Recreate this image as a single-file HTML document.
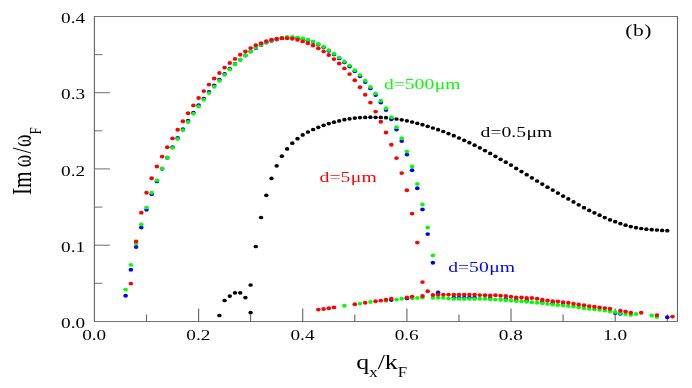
<!DOCTYPE html>
<html><head><meta charset="utf-8"><title>chart</title>
<style>html,body{margin:0;padding:0;background:#fff;}body{width:692px;height:388px;position:relative;overflow:hidden;font-family:"Liberation Serif",serif;}</style></head>
<body>
<svg width="692" height="388" viewBox="0 0 692 388" style="position:absolute;left:0;top:0;display:block">
<defs><filter id="sb" x="-5%" y="-5%" width="110%" height="110%"><feGaussianBlur stdDeviation="0.45"/></filter></defs>
<rect width="692" height="388" fill="#fff"/>
<g stroke="#747474" stroke-width="1.05" fill="none">
<line x1="93.9" y1="16.5" x2="678.0" y2="16.5"/><line x1="93.9" y1="321.4" x2="678.0" y2="321.4"/>
<line x1="94.4" y1="283.3" x2="102.4" y2="283.3"/>
<line x1="94.4" y1="245.2" x2="109.9" y2="245.2"/>
<line x1="94.4" y1="207.1" x2="102.4" y2="207.1"/>
<line x1="94.4" y1="168.9" x2="109.9" y2="168.9"/>
<line x1="94.4" y1="130.8" x2="102.4" y2="130.8"/>
<line x1="94.4" y1="92.7" x2="109.9" y2="92.7"/>
<line x1="94.4" y1="54.6" x2="102.4" y2="54.6"/>
</g>
<g stroke="#626262" stroke-width="1.1" fill="none">
<line x1="94.4" y1="16.5" x2="94.4" y2="321.4"/><line x1="677.5" y1="16.5" x2="677.5" y2="321.4"/>
<line x1="146.5" y1="321.4" x2="146.5" y2="314.4"/>
<line x1="198.6" y1="321.4" x2="198.6" y2="308.4"/>
<line x1="250.6" y1="321.4" x2="250.6" y2="314.4"/>
<line x1="302.7" y1="321.4" x2="302.7" y2="308.4"/>
<line x1="354.8" y1="321.4" x2="354.8" y2="314.4"/>
<line x1="406.9" y1="321.4" x2="406.9" y2="308.4"/>
<line x1="459.0" y1="321.4" x2="459.0" y2="314.4"/>
<line x1="511.0" y1="321.4" x2="511.0" y2="308.4"/>
<line x1="563.1" y1="321.4" x2="563.1" y2="314.4"/>
<line x1="615.2" y1="321.4" x2="615.2" y2="308.4"/>
<line x1="667.3" y1="321.4" x2="667.3" y2="314.4"/>
</g>
<g filter="url(#sb)">
<g fill="#000"><ellipse cx="219.4" cy="315.5" rx="2.2" ry="1.85"/><ellipse cx="224.6" cy="300.5" rx="2.2" ry="1.85"/><ellipse cx="229.8" cy="296.1" rx="2.2" ry="1.85"/><ellipse cx="235.0" cy="292.8" rx="2.2" ry="1.85"/><ellipse cx="240.2" cy="292.8" rx="2.2" ry="1.85"/><ellipse cx="245.4" cy="297.6" rx="2.2" ry="1.85"/><ellipse cx="250.6" cy="285.0" rx="2.2" ry="1.85"/><ellipse cx="250.6" cy="312.6" rx="2.2" ry="1.85"/><ellipse cx="255.8" cy="246.5" rx="2.2" ry="1.85"/><ellipse cx="261.1" cy="217.5" rx="2.2" ry="1.85"/><ellipse cx="266.3" cy="195.3" rx="2.2" ry="1.85"/><ellipse cx="271.5" cy="178.4" rx="2.2" ry="1.85"/><ellipse cx="276.7" cy="165.8" rx="2.2" ry="1.85"/><ellipse cx="281.9" cy="156.2" rx="2.2" ry="1.85"/><ellipse cx="287.1" cy="148.9" rx="2.2" ry="1.85"/><ellipse cx="292.3" cy="143.2" rx="2.2" ry="1.85"/><ellipse cx="297.5" cy="138.7" rx="2.2" ry="1.85"/><ellipse cx="302.7" cy="134.9" rx="2.2" ry="1.85"/><ellipse cx="307.9" cy="132.0" rx="2.2" ry="1.85"/><ellipse cx="313.1" cy="129.5" rx="2.2" ry="1.85"/><ellipse cx="318.3" cy="127.3" rx="2.2" ry="1.85"/><ellipse cx="323.6" cy="125.3" rx="2.2" ry="1.85"/><ellipse cx="328.8" cy="123.6" rx="2.2" ry="1.85"/><ellipse cx="334.0" cy="122.2" rx="2.2" ry="1.85"/><ellipse cx="339.2" cy="120.9" rx="2.2" ry="1.85"/><ellipse cx="344.4" cy="119.7" rx="2.2" ry="1.85"/><ellipse cx="349.6" cy="118.8" rx="2.2" ry="1.85"/><ellipse cx="354.8" cy="118.1" rx="2.2" ry="1.85"/><ellipse cx="360.0" cy="117.6" rx="2.2" ry="1.85"/><ellipse cx="365.2" cy="117.4" rx="2.2" ry="1.85"/><ellipse cx="370.4" cy="117.2" rx="2.2" ry="1.85"/><ellipse cx="375.6" cy="117.3" rx="2.2" ry="1.85"/><ellipse cx="380.8" cy="117.4" rx="2.2" ry="1.85"/><ellipse cx="386.0" cy="117.7" rx="2.2" ry="1.85"/><ellipse cx="391.3" cy="118.3" rx="2.2" ry="1.85"/><ellipse cx="396.5" cy="119.0" rx="2.2" ry="1.85"/><ellipse cx="401.7" cy="119.8" rx="2.2" ry="1.85"/><ellipse cx="406.9" cy="120.8" rx="2.2" ry="1.85"/><ellipse cx="412.1" cy="122.0" rx="2.2" ry="1.85"/><ellipse cx="417.3" cy="123.3" rx="2.2" ry="1.85"/><ellipse cx="422.5" cy="124.7" rx="2.2" ry="1.85"/><ellipse cx="427.7" cy="126.3" rx="2.2" ry="1.85"/><ellipse cx="432.9" cy="128.0" rx="2.2" ry="1.85"/><ellipse cx="438.1" cy="129.7" rx="2.2" ry="1.85"/><ellipse cx="443.3" cy="131.5" rx="2.2" ry="1.85"/><ellipse cx="448.5" cy="133.6" rx="2.2" ry="1.85"/><ellipse cx="453.8" cy="135.7" rx="2.2" ry="1.85"/><ellipse cx="459.0" cy="138.0" rx="2.2" ry="1.85"/><ellipse cx="464.2" cy="140.3" rx="2.2" ry="1.85"/><ellipse cx="469.4" cy="142.7" rx="2.2" ry="1.85"/><ellipse cx="474.6" cy="145.2" rx="2.2" ry="1.85"/><ellipse cx="479.8" cy="147.8" rx="2.2" ry="1.85"/><ellipse cx="485.0" cy="150.6" rx="2.2" ry="1.85"/><ellipse cx="490.2" cy="153.4" rx="2.2" ry="1.85"/><ellipse cx="495.4" cy="156.3" rx="2.2" ry="1.85"/><ellipse cx="500.6" cy="159.3" rx="2.2" ry="1.85"/><ellipse cx="505.8" cy="162.2" rx="2.2" ry="1.85"/><ellipse cx="511.0" cy="165.1" rx="2.2" ry="1.85"/><ellipse cx="516.2" cy="168.4" rx="2.2" ry="1.85"/><ellipse cx="521.5" cy="171.6" rx="2.2" ry="1.85"/><ellipse cx="526.7" cy="174.7" rx="2.2" ry="1.85"/><ellipse cx="531.9" cy="177.8" rx="2.2" ry="1.85"/><ellipse cx="537.1" cy="181.0" rx="2.2" ry="1.85"/><ellipse cx="542.3" cy="184.1" rx="2.2" ry="1.85"/><ellipse cx="547.5" cy="187.2" rx="2.2" ry="1.85"/><ellipse cx="552.7" cy="190.1" rx="2.2" ry="1.85"/><ellipse cx="557.9" cy="193.1" rx="2.2" ry="1.85"/><ellipse cx="563.1" cy="196.1" rx="2.2" ry="1.85"/><ellipse cx="568.3" cy="198.9" rx="2.2" ry="1.85"/><ellipse cx="573.5" cy="201.9" rx="2.2" ry="1.85"/><ellipse cx="578.7" cy="204.8" rx="2.2" ry="1.85"/><ellipse cx="584.0" cy="207.7" rx="2.2" ry="1.85"/><ellipse cx="589.2" cy="210.4" rx="2.2" ry="1.85"/><ellipse cx="594.4" cy="212.8" rx="2.2" ry="1.85"/><ellipse cx="599.6" cy="215.2" rx="2.2" ry="1.85"/><ellipse cx="604.8" cy="217.6" rx="2.2" ry="1.85"/><ellipse cx="610.0" cy="219.8" rx="2.2" ry="1.85"/><ellipse cx="615.2" cy="221.7" rx="2.2" ry="1.85"/><ellipse cx="620.4" cy="223.6" rx="2.2" ry="1.85"/><ellipse cx="625.6" cy="225.2" rx="2.2" ry="1.85"/><ellipse cx="630.8" cy="226.6" rx="2.2" ry="1.85"/><ellipse cx="636.0" cy="227.7" rx="2.2" ry="1.85"/><ellipse cx="641.2" cy="228.5" rx="2.2" ry="1.85"/><ellipse cx="646.4" cy="229.2" rx="2.2" ry="1.85"/><ellipse cx="651.7" cy="229.7" rx="2.2" ry="1.85"/><ellipse cx="656.9" cy="230.0" rx="2.2" ry="1.85"/><ellipse cx="662.1" cy="230.4" rx="2.2" ry="1.85"/><ellipse cx="667.3" cy="230.7" rx="2.2" ry="1.85"/></g>

<g fill="#0000ff"><ellipse cx="125.6" cy="295.8" rx="2.3" ry="1.95"/><ellipse cx="130.9" cy="269.7" rx="2.3" ry="1.95"/><ellipse cx="136.1" cy="247.0" rx="2.3" ry="1.95"/><ellipse cx="141.3" cy="227.5" rx="2.3" ry="1.95"/><ellipse cx="146.5" cy="209.8" rx="2.3" ry="1.95"/><ellipse cx="151.7" cy="194.3" rx="2.3" ry="1.95"/><ellipse cx="156.9" cy="181.4" rx="2.3" ry="1.95"/><ellipse cx="162.1" cy="168.7" rx="2.3" ry="1.95"/><ellipse cx="167.3" cy="157.8" rx="2.3" ry="1.95"/><ellipse cx="172.5" cy="147.1" rx="2.3" ry="1.95"/><ellipse cx="177.7" cy="138.0" rx="2.3" ry="1.95"/><ellipse cx="182.9" cy="129.1" rx="2.3" ry="1.95"/><ellipse cx="188.1" cy="120.8" rx="2.3" ry="1.95"/><ellipse cx="193.4" cy="112.6" rx="2.3" ry="1.95"/><ellipse cx="198.6" cy="105.3" rx="2.3" ry="1.95"/><ellipse cx="203.8" cy="98.6" rx="2.3" ry="1.95"/><ellipse cx="209.0" cy="91.9" rx="2.3" ry="1.95"/><ellipse cx="214.2" cy="85.5" rx="2.3" ry="1.95"/><ellipse cx="219.4" cy="79.6" rx="2.3" ry="1.95"/><ellipse cx="224.6" cy="74.0" rx="2.3" ry="1.95"/><ellipse cx="229.8" cy="68.8" rx="2.3" ry="1.95"/><ellipse cx="235.0" cy="64.0" rx="2.3" ry="1.95"/><ellipse cx="240.2" cy="59.7" rx="2.3" ry="1.95"/><ellipse cx="245.4" cy="55.5" rx="2.3" ry="1.95"/><ellipse cx="250.6" cy="51.6" rx="2.3" ry="1.95"/><ellipse cx="255.8" cy="48.0" rx="2.3" ry="1.95"/><ellipse cx="261.1" cy="45.1" rx="2.3" ry="1.95"/><ellipse cx="266.3" cy="42.5" rx="2.3" ry="1.95"/><ellipse cx="271.5" cy="40.7" rx="2.3" ry="1.95"/><ellipse cx="276.7" cy="39.5" rx="2.3" ry="1.95"/><ellipse cx="281.9" cy="38.1" rx="2.3" ry="1.95"/><ellipse cx="287.1" cy="37.5" rx="2.3" ry="1.95"/><ellipse cx="292.3" cy="37.4" rx="2.3" ry="1.95"/><ellipse cx="297.5" cy="38.0" rx="2.3" ry="1.95"/><ellipse cx="302.7" cy="38.9" rx="2.3" ry="1.95"/><ellipse cx="307.9" cy="40.2" rx="2.3" ry="1.95"/><ellipse cx="313.1" cy="42.0" rx="2.3" ry="1.95"/><ellipse cx="318.3" cy="44.4" rx="2.3" ry="1.95"/><ellipse cx="323.6" cy="47.3" rx="2.3" ry="1.95"/><ellipse cx="328.8" cy="50.7" rx="2.3" ry="1.95"/><ellipse cx="334.0" cy="54.4" rx="2.3" ry="1.95"/><ellipse cx="339.2" cy="58.4" rx="2.3" ry="1.95"/><ellipse cx="344.4" cy="62.4" rx="2.3" ry="1.95"/><ellipse cx="349.6" cy="66.5" rx="2.3" ry="1.95"/><ellipse cx="354.8" cy="71.2" rx="2.3" ry="1.95"/><ellipse cx="360.0" cy="76.2" rx="2.3" ry="1.95"/><ellipse cx="365.2" cy="82.1" rx="2.3" ry="1.95"/><ellipse cx="370.4" cy="88.4" rx="2.3" ry="1.95"/><ellipse cx="375.6" cy="95.1" rx="2.3" ry="1.95"/><ellipse cx="380.8" cy="102.5" rx="2.3" ry="1.95"/><ellipse cx="386.0" cy="110.0" rx="2.3" ry="1.95"/><ellipse cx="391.3" cy="119.2" rx="2.3" ry="1.95"/><ellipse cx="396.5" cy="129.6" rx="2.3" ry="1.95"/><ellipse cx="401.7" cy="141.1" rx="2.3" ry="1.95"/><ellipse cx="406.9" cy="154.6" rx="2.3" ry="1.95"/><ellipse cx="412.1" cy="170.2" rx="2.3" ry="1.95"/><ellipse cx="417.3" cy="188.2" rx="2.3" ry="1.95"/><ellipse cx="422.5" cy="209.4" rx="2.3" ry="1.95"/><ellipse cx="427.7" cy="234.1" rx="2.3" ry="1.95"/><ellipse cx="432.9" cy="262.7" rx="2.3" ry="1.95"/><ellipse cx="438.1" cy="292.4" rx="2.3" ry="1.95"/></g>

<g fill="#0000ff"><ellipse cx="391.3" cy="300.1" rx="2.3" ry="1.95"/><ellipse cx="406.9" cy="298.4" rx="2.3" ry="1.95"/><ellipse cx="453.8" cy="297.6" rx="2.3" ry="1.95"/><ellipse cx="459.0" cy="297.6" rx="2.3" ry="1.95"/><ellipse cx="464.2" cy="297.6" rx="2.3" ry="1.95"/><ellipse cx="469.4" cy="297.6" rx="2.3" ry="1.95"/><ellipse cx="474.6" cy="297.6" rx="2.3" ry="1.95"/><ellipse cx="490.2" cy="297.9" rx="2.3" ry="1.95"/><ellipse cx="505.8" cy="299.0" rx="2.3" ry="1.95"/><ellipse cx="516.2" cy="299.7" rx="2.3" ry="1.95"/><ellipse cx="526.7" cy="300.5" rx="2.3" ry="1.95"/><ellipse cx="542.3" cy="302.0" rx="2.3" ry="1.95"/><ellipse cx="552.7" cy="303.2" rx="2.3" ry="1.95"/><ellipse cx="563.1" cy="304.1" rx="2.3" ry="1.95"/><ellipse cx="615.2" cy="313.1" rx="2.3" ry="1.95"/><ellipse cx="620.4" cy="313.8" rx="2.3" ry="1.95"/><ellipse cx="667.3" cy="317.3" rx="2.3" ry="1.95"/></g>

<g fill="#00ff00"><ellipse cx="125.6" cy="289.6" rx="2.3" ry="1.95"/><ellipse cx="130.9" cy="264.9" rx="2.3" ry="1.95"/><ellipse cx="136.1" cy="243.4" rx="2.3" ry="1.95"/><ellipse cx="141.3" cy="224.4" rx="2.3" ry="1.95"/><ellipse cx="146.5" cy="207.6" rx="2.3" ry="1.95"/><ellipse cx="151.7" cy="192.8" rx="2.3" ry="1.95"/><ellipse cx="156.9" cy="180.4" rx="2.3" ry="1.95"/><ellipse cx="162.1" cy="168.4" rx="2.3" ry="1.95"/><ellipse cx="167.3" cy="157.8" rx="2.3" ry="1.95"/><ellipse cx="172.5" cy="147.9" rx="2.3" ry="1.95"/><ellipse cx="177.7" cy="139.0" rx="2.3" ry="1.95"/><ellipse cx="182.9" cy="130.3" rx="2.3" ry="1.95"/><ellipse cx="188.1" cy="122.0" rx="2.3" ry="1.95"/><ellipse cx="193.4" cy="113.8" rx="2.3" ry="1.95"/><ellipse cx="198.6" cy="106.5" rx="2.3" ry="1.95"/><ellipse cx="203.8" cy="99.8" rx="2.3" ry="1.95"/><ellipse cx="209.0" cy="93.1" rx="2.3" ry="1.95"/><ellipse cx="214.2" cy="86.7" rx="2.3" ry="1.95"/><ellipse cx="219.4" cy="80.8" rx="2.3" ry="1.95"/><ellipse cx="224.6" cy="74.9" rx="2.3" ry="1.95"/><ellipse cx="229.8" cy="69.4" rx="2.3" ry="1.95"/><ellipse cx="235.0" cy="64.3" rx="2.3" ry="1.95"/><ellipse cx="240.2" cy="59.7" rx="2.3" ry="1.95"/><ellipse cx="245.4" cy="55.3" rx="2.3" ry="1.95"/><ellipse cx="250.6" cy="51.2" rx="2.3" ry="1.95"/><ellipse cx="255.8" cy="47.6" rx="2.3" ry="1.95"/><ellipse cx="261.1" cy="44.7" rx="2.3" ry="1.95"/><ellipse cx="266.3" cy="42.1" rx="2.3" ry="1.95"/><ellipse cx="271.5" cy="40.3" rx="2.3" ry="1.95"/><ellipse cx="276.7" cy="39.1" rx="2.3" ry="1.95"/><ellipse cx="281.9" cy="37.7" rx="2.3" ry="1.95"/><ellipse cx="287.1" cy="37.1" rx="2.3" ry="1.95"/><ellipse cx="292.3" cy="37.0" rx="2.3" ry="1.95"/><ellipse cx="297.5" cy="37.6" rx="2.3" ry="1.95"/><ellipse cx="302.7" cy="38.5" rx="2.3" ry="1.95"/><ellipse cx="307.9" cy="39.8" rx="2.3" ry="1.95"/><ellipse cx="313.1" cy="41.6" rx="2.3" ry="1.95"/><ellipse cx="318.3" cy="44.0" rx="2.3" ry="1.95"/><ellipse cx="323.6" cy="46.8" rx="2.3" ry="1.95"/><ellipse cx="328.8" cy="50.1" rx="2.3" ry="1.95"/><ellipse cx="334.0" cy="53.7" rx="2.3" ry="1.95"/><ellipse cx="339.2" cy="57.6" rx="2.3" ry="1.95"/><ellipse cx="344.4" cy="61.5" rx="2.3" ry="1.95"/><ellipse cx="349.6" cy="65.6" rx="2.3" ry="1.95"/><ellipse cx="354.8" cy="70.2" rx="2.3" ry="1.95"/><ellipse cx="360.0" cy="75.1" rx="2.3" ry="1.95"/><ellipse cx="365.2" cy="80.8" rx="2.3" ry="1.95"/><ellipse cx="370.4" cy="87.0" rx="2.3" ry="1.95"/><ellipse cx="375.6" cy="93.5" rx="2.3" ry="1.95"/><ellipse cx="380.8" cy="100.8" rx="2.3" ry="1.95"/><ellipse cx="386.0" cy="108.2" rx="2.3" ry="1.95"/><ellipse cx="391.3" cy="117.2" rx="2.3" ry="1.95"/><ellipse cx="396.5" cy="127.2" rx="2.3" ry="1.95"/><ellipse cx="401.7" cy="138.3" rx="2.3" ry="1.95"/><ellipse cx="406.9" cy="151.4" rx="2.3" ry="1.95"/><ellipse cx="412.1" cy="166.4" rx="2.3" ry="1.95"/><ellipse cx="417.3" cy="183.9" rx="2.3" ry="1.95"/><ellipse cx="422.5" cy="204.4" rx="2.3" ry="1.95"/><ellipse cx="427.7" cy="227.5" rx="2.3" ry="1.95"/><ellipse cx="432.9" cy="255.4" rx="2.3" ry="1.95"/></g>

<g fill="#00ff00"><ellipse cx="344.4" cy="305.8" rx="2.3" ry="1.95"/><ellipse cx="360.0" cy="303.6" rx="2.3" ry="1.95"/><ellipse cx="370.4" cy="302.0" rx="2.3" ry="1.95"/><ellipse cx="386.0" cy="300.8" rx="2.3" ry="1.95"/><ellipse cx="396.5" cy="299.6" rx="2.3" ry="1.95"/><ellipse cx="401.7" cy="298.7" rx="2.3" ry="1.95"/><ellipse cx="412.1" cy="298.2" rx="2.3" ry="1.95"/><ellipse cx="417.3" cy="297.9" rx="2.3" ry="1.95"/><ellipse cx="422.5" cy="297.6" rx="2.3" ry="1.95"/><ellipse cx="432.9" cy="297.8" rx="2.3" ry="1.95"/><ellipse cx="438.1" cy="297.7" rx="2.3" ry="1.95"/><ellipse cx="443.3" cy="297.8" rx="2.3" ry="1.95"/><ellipse cx="448.5" cy="298.4" rx="2.3" ry="1.95"/><ellipse cx="453.8" cy="298.9" rx="2.3" ry="1.95"/><ellipse cx="459.0" cy="298.9" rx="2.3" ry="1.95"/><ellipse cx="464.2" cy="298.9" rx="2.3" ry="1.95"/><ellipse cx="469.4" cy="298.9" rx="2.3" ry="1.95"/><ellipse cx="474.6" cy="298.9" rx="2.3" ry="1.95"/><ellipse cx="479.8" cy="298.7" rx="2.3" ry="1.95"/><ellipse cx="485.0" cy="298.7" rx="2.3" ry="1.95"/><ellipse cx="490.2" cy="299.2" rx="2.3" ry="1.95"/><ellipse cx="495.4" cy="299.6" rx="2.3" ry="1.95"/><ellipse cx="500.6" cy="299.7" rx="2.3" ry="1.95"/><ellipse cx="505.8" cy="300.3" rx="2.3" ry="1.95"/><ellipse cx="511.0" cy="300.6" rx="2.3" ry="1.95"/><ellipse cx="516.2" cy="301.0" rx="2.3" ry="1.95"/><ellipse cx="521.5" cy="301.3" rx="2.3" ry="1.95"/><ellipse cx="526.7" cy="301.8" rx="2.3" ry="1.95"/><ellipse cx="531.9" cy="302.2" rx="2.3" ry="1.95"/><ellipse cx="537.1" cy="302.7" rx="2.3" ry="1.95"/><ellipse cx="542.3" cy="303.3" rx="2.3" ry="1.95"/><ellipse cx="547.5" cy="303.9" rx="2.3" ry="1.95"/><ellipse cx="552.7" cy="304.5" rx="2.3" ry="1.95"/><ellipse cx="557.9" cy="305.0" rx="2.3" ry="1.95"/><ellipse cx="563.1" cy="305.4" rx="2.3" ry="1.95"/><ellipse cx="568.3" cy="305.9" rx="2.3" ry="1.95"/><ellipse cx="573.5" cy="306.5" rx="2.3" ry="1.95"/><ellipse cx="578.7" cy="307.2" rx="2.3" ry="1.95"/><ellipse cx="584.0" cy="308.3" rx="2.3" ry="1.95"/><ellipse cx="589.2" cy="308.7" rx="2.3" ry="1.95"/><ellipse cx="594.4" cy="309.2" rx="2.3" ry="1.95"/><ellipse cx="599.6" cy="309.8" rx="2.3" ry="1.95"/><ellipse cx="604.8" cy="310.5" rx="2.3" ry="1.95"/><ellipse cx="610.0" cy="311.4" rx="2.3" ry="1.95"/><ellipse cx="615.2" cy="312.0" rx="2.3" ry="1.95"/><ellipse cx="620.4" cy="313.1" rx="2.3" ry="1.95"/><ellipse cx="625.6" cy="314.0" rx="2.3" ry="1.95"/><ellipse cx="630.8" cy="314.9" rx="2.3" ry="1.95"/><ellipse cx="636.0" cy="314.0" rx="2.3" ry="1.95"/><ellipse cx="651.7" cy="315.5" rx="2.3" ry="1.95"/><ellipse cx="656.9" cy="317.0" rx="2.3" ry="1.95"/></g>

<g fill="#ff0000"><ellipse cx="130.9" cy="283.6" rx="2.3" ry="1.95"/><ellipse cx="136.1" cy="241.4" rx="2.3" ry="1.95"/><ellipse cx="141.3" cy="212.8" rx="2.3" ry="1.95"/><ellipse cx="146.5" cy="192.8" rx="2.3" ry="1.95"/><ellipse cx="151.7" cy="178.3" rx="2.3" ry="1.95"/><ellipse cx="156.9" cy="166.5" rx="2.3" ry="1.95"/><ellipse cx="162.1" cy="156.6" rx="2.3" ry="1.95"/><ellipse cx="167.3" cy="147.3" rx="2.3" ry="1.95"/><ellipse cx="172.5" cy="138.4" rx="2.3" ry="1.95"/><ellipse cx="177.7" cy="129.7" rx="2.3" ry="1.95"/><ellipse cx="182.9" cy="121.3" rx="2.3" ry="1.95"/><ellipse cx="188.1" cy="113.3" rx="2.3" ry="1.95"/><ellipse cx="193.4" cy="105.4" rx="2.3" ry="1.95"/><ellipse cx="198.6" cy="98.0" rx="2.3" ry="1.95"/><ellipse cx="203.8" cy="91.1" rx="2.3" ry="1.95"/><ellipse cx="209.0" cy="84.6" rx="2.3" ry="1.95"/><ellipse cx="214.2" cy="78.5" rx="2.3" ry="1.95"/><ellipse cx="219.4" cy="73.0" rx="2.3" ry="1.95"/><ellipse cx="224.6" cy="67.6" rx="2.3" ry="1.95"/><ellipse cx="229.8" cy="63.0" rx="2.3" ry="1.95"/><ellipse cx="235.0" cy="58.9" rx="2.3" ry="1.95"/><ellipse cx="240.2" cy="54.8" rx="2.3" ry="1.95"/><ellipse cx="245.4" cy="51.4" rx="2.3" ry="1.95"/><ellipse cx="250.6" cy="48.1" rx="2.3" ry="1.95"/><ellipse cx="255.8" cy="45.2" rx="2.3" ry="1.95"/><ellipse cx="261.1" cy="43.2" rx="2.3" ry="1.95"/><ellipse cx="266.3" cy="41.1" rx="2.3" ry="1.95"/><ellipse cx="271.5" cy="39.8" rx="2.3" ry="1.95"/><ellipse cx="276.7" cy="38.8" rx="2.3" ry="1.95"/><ellipse cx="281.9" cy="38.3" rx="2.3" ry="1.95"/><ellipse cx="287.1" cy="38.3" rx="2.3" ry="1.95"/><ellipse cx="292.3" cy="38.8" rx="2.3" ry="1.95"/><ellipse cx="297.5" cy="39.7" rx="2.3" ry="1.95"/><ellipse cx="302.7" cy="41.4" rx="2.3" ry="1.95"/><ellipse cx="307.9" cy="43.2" rx="2.3" ry="1.95"/><ellipse cx="313.1" cy="45.5" rx="2.3" ry="1.95"/><ellipse cx="318.3" cy="48.3" rx="2.3" ry="1.95"/><ellipse cx="323.6" cy="51.4" rx="2.3" ry="1.95"/><ellipse cx="328.8" cy="55.0" rx="2.3" ry="1.95"/><ellipse cx="334.0" cy="59.1" rx="2.3" ry="1.95"/><ellipse cx="339.2" cy="63.5" rx="2.3" ry="1.95"/><ellipse cx="344.4" cy="68.4" rx="2.3" ry="1.95"/><ellipse cx="349.6" cy="74.1" rx="2.3" ry="1.95"/><ellipse cx="354.8" cy="80.3" rx="2.3" ry="1.95"/><ellipse cx="360.0" cy="87.2" rx="2.3" ry="1.95"/><ellipse cx="365.2" cy="94.7" rx="2.3" ry="1.95"/><ellipse cx="370.4" cy="102.6" rx="2.3" ry="1.95"/><ellipse cx="375.6" cy="111.6" rx="2.3" ry="1.95"/><ellipse cx="380.8" cy="121.7" rx="2.3" ry="1.95"/><ellipse cx="386.0" cy="132.5" rx="2.3" ry="1.95"/><ellipse cx="391.3" cy="144.7" rx="2.3" ry="1.95"/><ellipse cx="396.5" cy="158.1" rx="2.3" ry="1.95"/><ellipse cx="401.7" cy="173.1" rx="2.3" ry="1.95"/><ellipse cx="406.9" cy="190.2" rx="2.3" ry="1.95"/><ellipse cx="412.1" cy="213.6" rx="2.3" ry="1.95"/><ellipse cx="417.3" cy="242.6" rx="2.3" ry="1.95"/><ellipse cx="422.5" cy="282.1" rx="2.3" ry="1.95"/><ellipse cx="427.7" cy="291.3" rx="2.3" ry="1.95"/></g>

<g fill="#ff0000"><ellipse cx="318.3" cy="309.6" rx="2.3" ry="1.95"/><ellipse cx="323.6" cy="309.0" rx="2.3" ry="1.95"/><ellipse cx="328.8" cy="308.3" rx="2.3" ry="1.95"/><ellipse cx="334.0" cy="307.4" rx="2.3" ry="1.95"/><ellipse cx="354.8" cy="304.3" rx="2.3" ry="1.95"/><ellipse cx="365.2" cy="302.7" rx="2.3" ry="1.95"/><ellipse cx="375.6" cy="301.3" rx="2.3" ry="1.95"/><ellipse cx="380.8" cy="300.6" rx="2.3" ry="1.95"/><ellipse cx="386.0" cy="299.8" rx="2.3" ry="1.95"/><ellipse cx="391.3" cy="298.7" rx="2.3" ry="1.95"/><ellipse cx="406.9" cy="297.5" rx="2.3" ry="1.95"/><ellipse cx="412.1" cy="296.6" rx="2.3" ry="1.95"/><ellipse cx="422.5" cy="296.0" rx="2.3" ry="1.95"/><ellipse cx="432.9" cy="295.0" rx="2.3" ry="1.95"/><ellipse cx="438.1" cy="294.6" rx="2.3" ry="1.95"/><ellipse cx="443.3" cy="294.6" rx="2.3" ry="1.95"/><ellipse cx="448.5" cy="294.6" rx="2.3" ry="1.95"/><ellipse cx="453.8" cy="294.6" rx="2.3" ry="1.95"/><ellipse cx="459.0" cy="294.6" rx="2.3" ry="1.95"/><ellipse cx="464.2" cy="294.6" rx="2.3" ry="1.95"/><ellipse cx="469.4" cy="294.6" rx="2.3" ry="1.95"/><ellipse cx="474.6" cy="294.6" rx="2.3" ry="1.95"/><ellipse cx="479.8" cy="295.1" rx="2.3" ry="1.95"/><ellipse cx="485.0" cy="295.2" rx="2.3" ry="1.95"/><ellipse cx="490.2" cy="295.4" rx="2.3" ry="1.95"/><ellipse cx="495.4" cy="295.3" rx="2.3" ry="1.95"/><ellipse cx="500.6" cy="295.8" rx="2.3" ry="1.95"/><ellipse cx="505.8" cy="295.9" rx="2.3" ry="1.95"/><ellipse cx="511.0" cy="296.7" rx="2.3" ry="1.95"/><ellipse cx="516.2" cy="297.5" rx="2.3" ry="1.95"/><ellipse cx="521.5" cy="297.5" rx="2.3" ry="1.95"/><ellipse cx="526.7" cy="298.0" rx="2.3" ry="1.95"/><ellipse cx="531.9" cy="298.0" rx="2.3" ry="1.95"/><ellipse cx="537.1" cy="298.7" rx="2.3" ry="1.95"/><ellipse cx="542.3" cy="299.8" rx="2.3" ry="1.95"/><ellipse cx="547.5" cy="300.5" rx="2.3" ry="1.95"/><ellipse cx="552.7" cy="301.2" rx="2.3" ry="1.95"/><ellipse cx="557.9" cy="301.5" rx="2.3" ry="1.95"/><ellipse cx="563.1" cy="302.1" rx="2.3" ry="1.95"/><ellipse cx="568.3" cy="302.8" rx="2.3" ry="1.95"/><ellipse cx="573.5" cy="303.7" rx="2.3" ry="1.95"/><ellipse cx="578.7" cy="304.5" rx="2.3" ry="1.95"/><ellipse cx="584.0" cy="305.2" rx="2.3" ry="1.95"/><ellipse cx="589.2" cy="306.1" rx="2.3" ry="1.95"/><ellipse cx="594.4" cy="306.7" rx="2.3" ry="1.95"/><ellipse cx="599.6" cy="307.4" rx="2.3" ry="1.95"/><ellipse cx="604.8" cy="308.1" rx="2.3" ry="1.95"/><ellipse cx="610.0" cy="308.7" rx="2.3" ry="1.95"/><ellipse cx="620.4" cy="310.7" rx="2.3" ry="1.95"/><ellipse cx="625.6" cy="311.6" rx="2.3" ry="1.95"/><ellipse cx="630.8" cy="312.7" rx="2.3" ry="1.95"/><ellipse cx="641.2" cy="312.7" rx="2.3" ry="1.95"/><ellipse cx="656.9" cy="315.1" rx="2.3" ry="1.95"/><ellipse cx="672.5" cy="316.6" rx="2.3" ry="1.95"/></g>

</g>
<g font-family="'Liberation Serif', serif" opacity="0.999">
<text transform="translate(85.2,328.0) scale(1.235,1)" font-size="15.6" fill="#000" text-anchor="end">0.0</text>
<text transform="translate(85.2,251.77499999999998) scale(1.235,1)" font-size="15.6" fill="#000" text-anchor="end">0.1</text>
<text transform="translate(85.2,175.54999999999998) scale(1.235,1)" font-size="15.6" fill="#000" text-anchor="end">0.2</text>
<text transform="translate(85.2,99.32499999999996) scale(1.235,1)" font-size="15.6" fill="#000" text-anchor="end">0.3</text>
<text transform="translate(85.2,23.1) scale(1.235,1)" font-size="15.6" fill="#000" text-anchor="end">0.4</text>
<text transform="translate(94.2,340) scale(1.235,1)" font-size="15.6" fill="#000" text-anchor="middle">0.0</text>
<text transform="translate(198.36,340) scale(1.235,1)" font-size="15.6" fill="#000" text-anchor="middle">0.2</text>
<text transform="translate(302.52000000000004,340) scale(1.235,1)" font-size="15.6" fill="#000" text-anchor="middle">0.4</text>
<text transform="translate(406.68,340) scale(1.235,1)" font-size="15.6" fill="#000" text-anchor="middle">0.6</text>
<text transform="translate(510.84,340) scale(1.235,1)" font-size="15.6" fill="#000" text-anchor="middle">0.8</text>
<text transform="translate(614.9999999999999,340) scale(1.235,1)" font-size="15.6" fill="#000" text-anchor="middle">1.0</text>
<text transform="translate(383.9,88.8) scale(1.26,1)" font-size="15.6" fill="#00ff00" text-anchor="start">d=500<tspan dx="0.4">μ</tspan>m</text>
<text transform="translate(480.6,137.0) scale(1.26,1)" font-size="15.6" fill="#000" text-anchor="start">d=0.5<tspan dx="0.4">μ</tspan>m</text>
<text transform="translate(319.6,182.4) scale(1.26,1)" font-size="15.6" fill="#ff0000" text-anchor="start">d=5<tspan dx="0.4">μ</tspan>m</text>
<text transform="translate(448.2,271.7) scale(1.26,1)" font-size="15.6" fill="#0000ff" text-anchor="start">d=50<tspan dx="0.4">μ</tspan>m</text>
<text transform="translate(625.3,36) scale(1.235,1)" font-size="17.5" fill="#000" text-anchor="start" letter-spacing="0.4">(b)</text>
<text transform="translate(356.3,369.3) scale(1.235,1)" font-size="21" fill="#000">q<tspan font-size="13.6" dy="7.2">x</tspan><tspan dy="-7.2">/k</tspan><tspan font-size="13.6" dy="7.2">F</tspan></text>
<g transform="translate(30.8,195.7) scale(1.235,1) rotate(-90)" fill="#000"><text x="0.6" y="0" font-size="21.5">Im</text><text transform="translate(28.5,0) scale(0.88,1)" font-size="21.5">ω</text><text x="42.3" y="0" font-size="21.5">/</text><text transform="translate(48.8,0) scale(0.88,1)" font-size="21.5">ω</text><text x="61.3" y="8.3" font-size="13">F</text></g>
</g>
</svg>
</body></html>
